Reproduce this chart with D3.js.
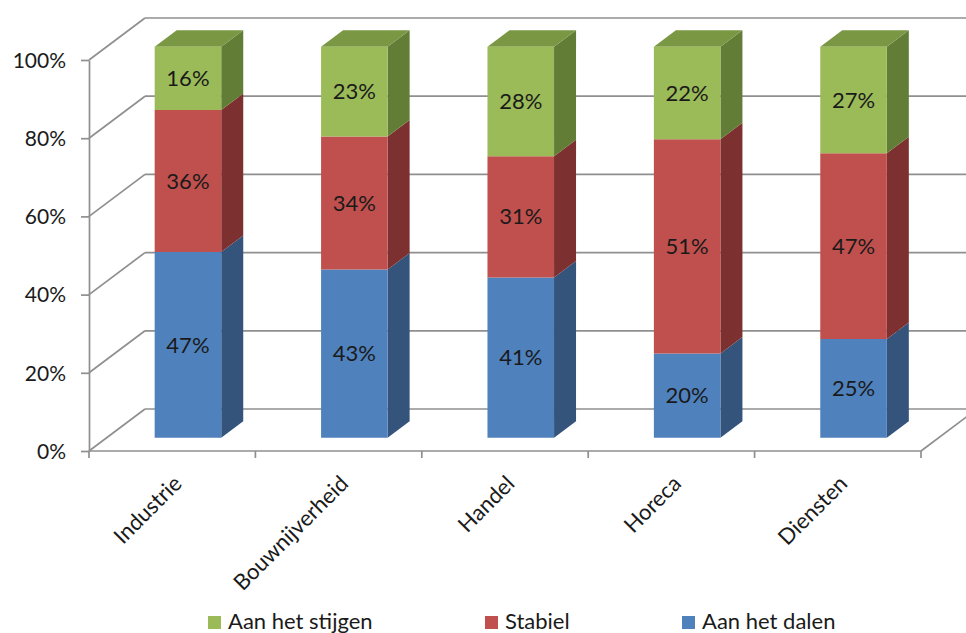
<!DOCTYPE html>
<html lang="nl">
<head>
<meta charset="UTF-8">
<title>Verwachting per sector</title>
<script src="https://d3js.org/d3.v7.min.js"></script>
<style>
    body { margin: 0; background: #fff; }
    svg text { font-family: Lato, "Open Sans", sans-serif; fill: #1a1a1a; }
</style>
</head>
<body>
<script>
    // categorieen en reeksen (percentages zoals in de labels)
    const categories = ["Industrie", "Bouwnijverheid", "Handel", "Horeca", "Diensten"];
    const dalen   = [47, 43, 41, 20, 25];
    const stabiel = [36, 34, 31, 51, 47];
    const stijgen = [16, 23, 28, 22, 27];
    const seriesNames = ["Aan het stijgen", "Stabiel", "Aan het dalen"];
    const yTicks = [0, 0.2, 0.4, 0.6, 0.8, 1];

    const W = 966, H = 633;
    const svg = d3.select("body").append("svg").attr("width", W).attr("height", H);

    // 3D-ruimte: voorvlak en diepte-offset
    const depthX = 56, depthY = 42;
    const proj = (x, y, f) => [x + depthX * f, y - depthY * f];

    const x = d3.scaleBand().domain(categories).range([89, 921]).paddingInner(0).paddingOuter(0);
    const y = d3.scaleLinear().domain([0, 1]).range([451, 60]);

    const gridColor = "#8f8f8f";
    const grid = svg.append("g").attr("stroke", gridColor).attr("stroke-width", 1.7).attr("fill", "none");

    // achterwand + zijwand rasterlijnen
    yTicks.forEach(t => {
        const [bx, by] = proj(89, y(t), 1);
        grid.append("line").attr("x1", bx).attr("y1", by).attr("x2", W + 20).attr("y2", by);
        grid.append("line").attr("x1", 89).attr("y1", y(t)).attr("x2", bx).attr("y2", by);
    });
    // vloer rechterrand
    const [rx, ry] = proj(921, y(0), 1);
    grid.append("line").attr("x1", 921).attr("y1", y(0)).attr("x2", rx).attr("y2", ry);

    // y-as
    const yAxis = d3.axisLeft(y).tickValues(yTicks).tickFormat(d3.format(".0%"))
        .tickSize(8).tickSizeOuter(0).tickPadding(15);
    const ya = svg.append("g").attr("transform", "translate(89,0)").call(yAxis);
    ya.select(".domain").attr("stroke", gridColor).attr("stroke-width", 1.7);
    ya.selectAll(".tick line").attr("stroke", gridColor).attr("stroke-width", 1.7);
    ya.selectAll(".tick text").attr("font-size", 21).attr("dy", "0.35em").attr("x", -23)
        .style("font-family", "Lato, sans-serif").attr("fill", "#1a1a1a");

    // x-as
    const xa = svg.append("g");
    xa.append("line").attr("x1", 89).attr("x2", 921).attr("y1", y(0)).attr("y2", y(0))
        .attr("stroke", gridColor).attr("stroke-width", 1.7);
    const edges = categories.map(c => x(c)).concat([x.range()[1]]);
    xa.selectAll("line.tk").data(edges).join("line").attr("class", "tk")
        .attr("x1", d => d).attr("x2", d => d).attr("y1", y(0)).attr("y2", y(0) + 7)
        .attr("stroke", gridColor).attr("stroke-width", 1.7);
    xa.selectAll("text").data(categories).join("text")
        .attr("transform", d => `translate(${x(d) + x.bandwidth() / 2 + 11},485) rotate(-45)`)
        .attr("text-anchor", "end").attr("font-size", 22).text(d => d);

    // staven
    const colors = {
        "Aan het dalen":   { front: "#4f81bd", side: "#34547c", top: "#41699a" },
        "Stabiel":         { front: "#c0504d", side: "#7c302f", top: "#9c3f3d" },
        "Aan het stijgen": { front: "#9bbb59", side: "#627d35", top: "#7a9744" }
    };
    const stackOrder = [["Aan het dalen", dalen], ["Stabiel", stabiel], ["Aan het stijgen", stijgen]];

    const barW = x.bandwidth() * 0.4;
    const f0 = 0.317, bd = 22 / depthX;
    const pts = a => a.map(p => p.join(",")).join(" ");
    const bars = svg.append("g");

    categories.forEach((c, i) => {
        const total = stackOrder.reduce((s, d) => s + d[1][i], 0);
        const xs = x(c) + (x.bandwidth() - barW) / 2 - 2;
        let acc = 0;
        stackOrder.forEach(([name, vals], k) => {
            const v0 = acc / total, v1 = (acc + vals[i]) / total;
            acc += vals[i];
            const col = colors[name];
            const fl = proj(xs, y(v0), f0), fr = proj(xs + barW, y(v0), f0);
            const tl = proj(xs, y(v1), f0), tr = proj(xs + barW, y(v1), f0);
            const br = proj(xs + barW, y(v0), f0 + bd), bt = proj(xs + barW, y(v1), f0 + bd);
            const g = bars.append("g");
            g.append("polygon").attr("points", pts([fr, br, bt, tr])).attr("fill", col.side);
            if (k === stackOrder.length - 1) {
                const tlb = proj(xs, y(v1), f0 + bd);
                g.append("polygon").attr("points", pts([tl, tr, bt, tlb])).attr("fill", col.top);
            }
            g.append("polygon").attr("points", pts([fl, fr, tr, tl])).attr("fill", col.front);
            g.append("text").attr("x", (fl[0] + fr[0]) / 2).attr("y", (fl[1] + tl[1]) / 2)
                .attr("dy", "0.35em").attr("text-anchor", "middle").attr("font-size", 22)
                .text(vals[i] + "%");
        });
    });

    // legenda
    const legendX = [208, 485, 682];
    const lg = svg.append("g");
    seriesNames.forEach((n, i) => {
        lg.append("rect").attr("x", legendX[i]).attr("y", 616).attr("width", 13).attr("height", 13)
            .attr("fill", colors[n].front);
        lg.append("text").attr("x", legendX[i] + 20).attr("y", 629).attr("font-size", 22).text(n);
    });
</script>
</body>
</html>
